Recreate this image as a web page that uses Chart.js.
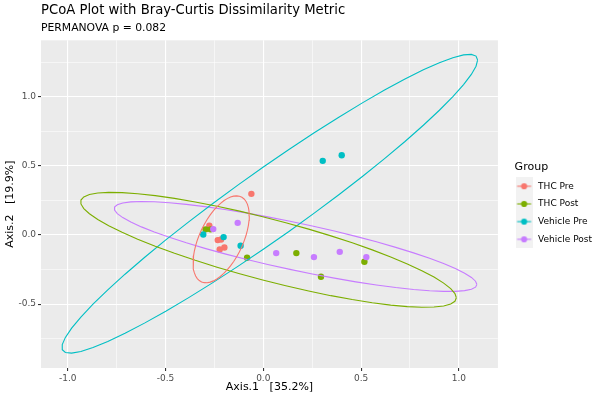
<!DOCTYPE html>
<html>
<head>
<meta charset="utf-8">
<script src="https://cdn.jsdelivr.net/npm/chart.js@4.4.1/dist/chart.umd.min.js"></script>
<style>
  html, body { margin: 0; padding: 0; background: #ffffff; }
  #wrap { width: 600px; height: 400px; }
</style>
</head>
<body>
<div id="wrap"><canvas id="pcoa"></canvas></div>
<script>
// groups and PCoA coordinates
var groups = ["THC Pre", "THC Post", "Vehicle Pre", "Vehicle Post"];
var colors = ["#F8766D", "#7CAE00", "#00BFC4", "#C77CFF"];

var thcPreX = [-0.061, -0.276, -0.233, -0.216, -0.199, -0.223];
var thcPreY = [0.298, 0.067, -0.037, -0.032, -0.090, -0.104];

var thcPostX = [-0.295, -0.270, -0.083, 0.169, 0.517, 0.295];
var thcPostY = [0.041, 0.041, -0.165, -0.131, -0.194, -0.302];

var vehPreX = [-0.307, -0.203, -0.116, 0.304, 0.401];
var vehPreY = [0.004, -0.015, -0.078, 0.537, 0.578];

var vehPostX = [-0.131, -0.256, 0.066, 0.259, 0.391, 0.527];
var vehPostY = [0.088, 0.043, -0.131, -0.160, -0.122, -0.160];

var xTicks = [-1.0, -0.75, -0.5, -0.25, 0.0, 0.25, 0.5, 0.75, 1.0];
var yTicks = [-0.75, -0.5, -0.25, 0.0, 0.25, 0.5, 0.75, 1.0, 1.25];

var groupX = [thcPreX, thcPostX, vehPreX, vehPostX];
var groupY = [thcPreY, thcPostY, vehPreY, vehPostY];

// robust t covariance (like MASS::cov.trob, nu = 5)
function covTrob(xs, ys) {
  var n = xs.length, nu = 5, p = 2;
  var w = xs.map(function(){ return 1; });
  var loc = [xs.reduce(function(a,b){return a+b;},0)/n, ys.reduce(function(a,b){return a+b;},0)/n];
  var dx, dy;
  for (var iter = 0; iter < 25; iter++) {
    var w0 = w.slice();
    dx = xs.map(function(v){ return v - loc[0]; });
    dy = ys.map(function(v){ return v - loc[1]; });
    var sw = w.reduce(function(a,b){return a+b;},0);
    var a = 0, b = 0, c = 0;
    for (var i = 0; i < n; i++) {
      a += w[i]*dx[i]*dx[i]/sw; b += w[i]*dx[i]*dy[i]/sw; c += w[i]*dy[i]*dy[i]/sw;
    }
    var det = a*c - b*b;
    w = dx.map(function(d, i){
      var q = (c*d*d - 2*b*d*dy[i] + a*dy[i]*dy[i]) / det;
      return (nu + p) / (nu + q);
    });
    var sw2 = w.reduce(function(a,b){return a+b;},0);
    var lx = 0, ly = 0;
    for (var j = 0; j < n; j++) { lx += w[j]*xs[j]; ly += w[j]*ys[j]; }
    loc = [lx/sw2, ly/sw2];
    var done = w.every(function(v, k){ return Math.abs(v - w0[k]) < 0.01; });
    if (done) break;
  }
  var s11 = 0, s12 = 0, s22 = 0;
  for (var k = 0; k < n; k++) {
    s11 += w[k]*dx[k]*dx[k]; s12 += w[k]*dx[k]*dy[k]; s22 += w[k]*dy[k]*dy[k];
  }
  return { center: loc, cov: [s11/n, s12/n, s22/n] };
}

// 95% ellipse the way stat_ellipse does it
function ellipsePts(xs, ys) {
  var v = covTrob(xs, ys);
  var d = xs.length - 1;
  var fq = d/2 * (Math.pow(0.05, -2/d) - 1);
  var radius = Math.sqrt(2 * fq);
  var r11 = Math.sqrt(v.cov[0]);
  var r12 = v.cov[1] / r11;
  var r22 = Math.sqrt(v.cov[2] - r12*r12);
  var out = [];
  for (var s = 0; s <= 51; s++) {
    var t = s * 2 * Math.PI / 51;
    out.push({
      x: v.center[0] + radius * Math.cos(t) * r11,
      y: v.center[1] + radius * (Math.cos(t) * r12 + Math.sin(t) * r22)
    });
  }
  return out;
}

// legend keys: grey square with a line and a dot
function makeKey(col) {
  var k = document.createElement("canvas");
  k.width = 17; k.height = 18;
  var c = k.getContext("2d");
  c.fillStyle = "#F2F2F2";
  c.fillRect(0, 0, 17, 18);
  c.strokeStyle = col; c.lineWidth = 1.1;
  c.beginPath(); c.moveTo(1.5, 9); c.lineTo(15.5, 9); c.stroke();
  c.fillStyle = col;
  c.beginPath(); c.arc(8.5, 9, 3.1, 0, 2*Math.PI); c.fill();
  return k;
}
var keys = colors.map(makeKey);

var datasets = [];
groups.forEach(function(g, i){
  datasets.push({
    label: g,
    data: groupX[i].map(function(x, j){ return {x: x, y: groupY[i][j]}; }),
    backgroundColor: colors[i],
    borderWidth: 0,
    pointRadius: 3.2,
    order: 4 - i
  });
});
groups.forEach(function(g, i){
  datasets.push({
    label: g + " ellipse",
    data: ellipsePts(groupX[i], groupY[i]),
    showLine: true,
    borderColor: colors[i],
    borderWidth: 1.1,
    pointRadius: 0,
    fill: false,
    order: 0
  });
});

function isMajor(v) { return Math.abs(v*2 - Math.round(v*2)) < 1e-9; }

var panelBg = {
  id: "panelBg",
  beforeDraw: function(chart) {
    var a = chart.chartArea, c = chart.ctx;
    c.save();
    c.fillStyle = "#EBEBEB";
    c.fillRect(a.left, a.top, a.right - a.left, a.bottom - a.top);
    c.restore();
  }
};

var gridOpts = {
  color: "#FFFFFF",
  lineWidth: function(ctx){ return ctx.tick && isMajor(ctx.tick.value) ? 1.1 : 0.55; },
  tickColor: function(ctx){ return ctx.tick && isMajor(ctx.tick.value) ? "#333333" : "rgba(0,0,0,0)"; },
  tickWidth: 1.1,
  tickLength: 3,
  drawOnChartArea: true
};

Chart.defaults.font.family = "'DejaVu Sans', sans-serif";

var chart = new Chart(document.getElementById("pcoa"), {
  type: "scatter",
  data: { datasets: datasets },
  options: {
    responsive: true,
    maintainAspectRatio: false,
    animation: false,
    devicePixelRatio: 1,
    layout: { padding: { left: 4, right: -2, top: 0, bottom: 6.4 } },
    scales: {
      x: {
        type: "linear",
        min: -1.137, max: 1.2,
        afterBuildTicks: function(s){ s.ticks = xTicks.map(function(v){ return {value: v}; }); },
        afterFit: function(s){ s.height = 25.6; },
        grid: gridOpts,
        border: { display: false },
        ticks: {
          color: "#4D4D4D", font: { size: 9 }, padding: 2, maxRotation: 0, autoSkip: false,
          callback: function(v){ return isMajor(v) ? v.toFixed(1) : ""; }
        },
        title: { display: true, text: "Axis.1   [35.2%]", color: "#000000", font: { size: 11 }, padding: { top: 1, bottom: 0 } }
      },
      y: {
        type: "linear",
        min: -0.963, max: 1.41,
        afterBuildTicks: function(s){ s.ticks = yTicks.map(function(v){ return {value: v}; }); },
        afterFit: function(s){ s.width = 37; },
        grid: gridOpts,
        border: { display: false },
        ticks: {
          color: "#4D4D4D", font: { size: 9 }, padding: 2, autoSkip: false,
          callback: function(v){ return isMajor(v) ? v.toFixed(1) : ""; }
        },
        title: { display: true, text: "Axis.2   [19.9%]", color: "#000000", font: { size: 11 }, padding: { top: 0, bottom: 2 } }
      },
      gap: {
        type: "linear", position: "right", display: true,
        grid: { display: false }, border: { display: false }, ticks: { display: false },
        afterFit: function(s){ s.width = 8; }
      }
    },
    plugins: {
      tooltip: { enabled: false },
      title: {
        display: true, text: "PCoA Plot with Bray-Curtis Dissimilarity Metric",
        align: "start", fullSize: false, color: "#000000",
        font: { size: 13.2, weight: "normal" }, padding: { top: 3, bottom: 3 }
      },
      subtitle: {
        display: true, text: "PERMANOVA p = 0.082",
        align: "start", fullSize: false, color: "#000000",
        font: { size: 10.8 }, padding: { top: 0, bottom: 5.5 }
      },
      legend: {
        position: "right", fullSize: false, align: "center",
        title: { display: true, text: "Group", position: "start", color: "#000000", font: { size: 11 }, padding: { top: 6, bottom: -2 } },
        labels: {
          usePointStyle: true, pointStyleWidth: 19, padding: 8.7,
          color: "#000000", font: { size: 9 },
          generateLabels: function(ch) {
            var items = Chart.defaults.plugins.legend.labels.generateLabels(ch);
            return items.filter(function(l){ return l.datasetIndex < 4; })
              .sort(function(a, b){ return a.datasetIndex - b.datasetIndex; })
              .map(function(l){ l.pointStyle = keys[l.datasetIndex]; l.fontColor = "#000000"; return l; });
          }
        }
      }
    }
  },
  plugins: [panelBg]
});

// line the legend title up with the keys, as ggplot does
var drawTitle0 = chart.legend.drawTitle;
chart.legend.drawTitle = function() {
  this.ctx.save();
  this.ctx.translate(this.options.labels.padding, 0);
  drawTitle0.call(this);
  this.ctx.restore();
};
chart.draw();
</script>
</body>
</html>
